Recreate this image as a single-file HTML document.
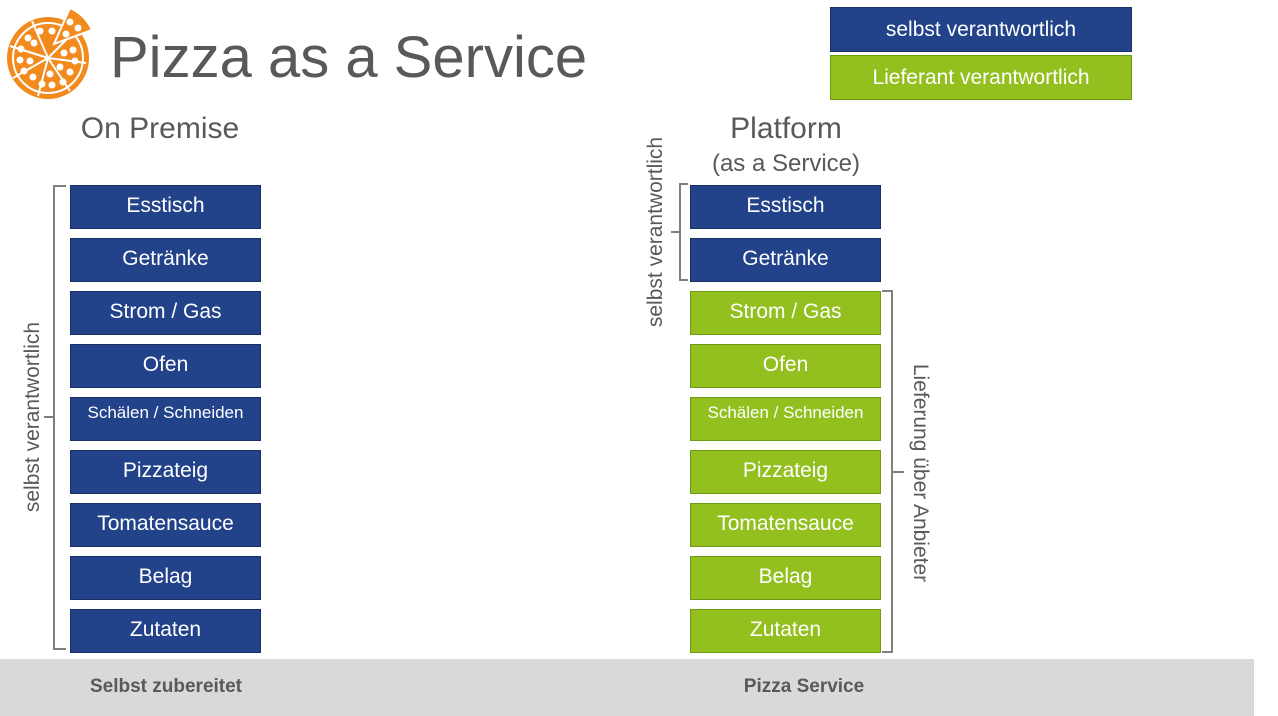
<!DOCTYPE html>
<html><head><meta charset="utf-8"><style>
body{margin:0;width:1278px;height:716px;background:#fff;position:relative;overflow:hidden;font-family:"Liberation Sans",sans-serif}
.a{position:absolute}
.b{position:absolute;width:191px;height:44px;color:#fff;font-size:21px;display:flex;align-items:center;justify-content:center;box-sizing:border-box;border:1px solid #1a2f66;padding-bottom:3px}
.bl{background:#22428a}
.gr{background:#93c01f;border-color:#6f9a14}
.sm{font-size:17px}
</style></head><body>
<svg class="a" style="left:0;top:0" width="1278" height="716">
<g transform="translate(48,58)">
<circle r="41" fill="#f28a1e"/>
<circle r="35" fill="none" stroke="#fff" stroke-width="2"/>
<g stroke="#fff" stroke-width="2">
<line x1="0" y1="0" x2="-16" y2="-37"/><line x1="0" y1="0" x2="-38" y2="-12"/><line x1="0" y1="0" x2="-35" y2="20"/><line x1="0" y1="0" x2="-10" y2="38"/><line x1="0" y1="0" x2="22" y2="33"/><line x1="0" y1="0" x2="38" y2="5"/><line x1="0" y1="0" x2="28" y2="-28"/>
</g>
<path d="M6,-14 L22,-50 A44,44 0 0 1 44,-28 Z" fill="#f28a1e" stroke="#fff" stroke-width="2"/>
<g fill="#fff">
<circle cx="-8" cy="-27" r="3.5"/><circle cx="4" cy="-27" r="3.5"/><circle cx="-20" cy="-20" r="3.5"/><circle cx="-14" cy="-15" r="3.5"/><circle cx="-27" cy="-9" r="3.5"/><circle cx="-28" cy="2" r="3.5"/><circle cx="-18" cy="3" r="3.5"/><circle cx="-24" cy="13" r="3.5"/><circle cx="-15" cy="19" r="3.5"/><circle cx="-6" cy="26" r="3.5"/><circle cx="4" cy="27" r="3.5"/><circle cx="2" cy="16" r="3.5"/><circle cx="15" cy="24" r="3.5"/><circle cx="22" cy="14" r="3.5"/><circle cx="12" cy="9" r="3.5"/><circle cx="27" cy="3" r="3.5"/><circle cx="25" cy="-8" r="3.5"/><circle cx="16" cy="-5" r="3.5"/><circle cx="22" cy="-36" r="3.5"/><circle cx="30" cy="-30" r="3.5"/><circle cx="18" cy="-24" r="3.5"/>
</g></g>
<g fill="none" stroke="#7f7f7f" stroke-width="2">
<path d="M66,186 H54 V649 H66 M54,417 H44"/>
<path d="M688,184 H680 V280 H688 M680,232 H671"/>
<path d="M882,291 H892 V652 H882 M892,472 H904"/>
</g>
</svg>
<div class="a" style="left:110px;top:24px;font-size:58px;color:#595959">Pizza as a Service</div>
<div class="a" style="left:830px;top:7px;width:302px;height:45px;background:#22428a;border:1px solid #1a2f66;box-sizing:border-box;color:#fff;font-size:21px;display:flex;align-items:center;justify-content:center">selbst verantwortlich</div>
<div class="a" style="left:830px;top:55px;width:302px;height:45px;background:#93c01f;border:1px solid #6f9a14;box-sizing:border-box;color:#fff;font-size:21px;display:flex;align-items:center;justify-content:center">Lieferant verantwortlich</div>
<div class="a" style="left:60px;top:112px;width:200px;text-align:center;font-size:30px;color:#595959">On Premise</div>
<div class="a" style="left:686px;top:112px;width:200px;text-align:center;font-size:30px;color:#595959">Platform</div>
<div class="a" style="left:686px;top:150px;width:200px;text-align:center;font-size:24px;color:#595959">(as a Service)</div>
<div class="a" style="left:33px;top:417px;transform:translate(-50%,-50%) rotate(-90deg);white-space:nowrap;font-size:21px;color:#595959">selbst verantwortlich</div>
<div class="a" style="left:656px;top:232px;transform:translate(-50%,-50%) rotate(-90deg);white-space:nowrap;font-size:21px;color:#595959">selbst verantwortlich</div>
<div class="a" style="left:920px;top:473px;transform:translate(-50%,-50%) rotate(90deg);white-space:nowrap;font-size:21px;color:#595959">Lieferung über Anbieter</div>

<div class="b bl" style="left:70px;top:185px">Esstisch</div>
<div class="b bl" style="left:70px;top:238px">Getränke</div>
<div class="b bl" style="left:70px;top:291px">Strom / Gas</div>
<div class="b bl" style="left:70px;top:344px">Ofen</div>
<div class="b bl sm" style="left:70px;top:397px;align-items:flex-start;padding-top:5px">Schälen / Schneiden</div>
<div class="b bl" style="left:70px;top:450px">Pizzateig</div>
<div class="b bl" style="left:70px;top:503px">Tomatensauce</div>
<div class="b bl" style="left:70px;top:556px">Belag</div>
<div class="b bl" style="left:70px;top:609px">Zutaten</div>

<div class="b bl" style="left:690px;top:185px">Esstisch</div>
<div class="b bl" style="left:690px;top:238px">Getränke</div>
<div class="b gr" style="left:690px;top:291px">Strom / Gas</div>
<div class="b gr" style="left:690px;top:344px">Ofen</div>
<div class="b gr sm" style="left:690px;top:397px;align-items:flex-start;padding-top:5px">Schälen / Schneiden</div>
<div class="b gr" style="left:690px;top:450px">Pizzateig</div>
<div class="b gr" style="left:690px;top:503px">Tomatensauce</div>
<div class="b gr" style="left:690px;top:556px">Belag</div>
<div class="b gr" style="left:690px;top:609px">Zutaten</div>

<div class="a" style="left:0;top:659px;width:1254px;height:57px;background:#d9d9d9"></div>
<div class="a" style="left:66px;top:676px;width:200px;text-align:center;font-size:19px;font-weight:bold;color:#595959">Selbst zubereitet</div>
<div class="a" style="left:704px;top:676px;width:200px;text-align:center;font-size:19px;font-weight:bold;color:#595959">Pizza Service</div>
</body></html>
